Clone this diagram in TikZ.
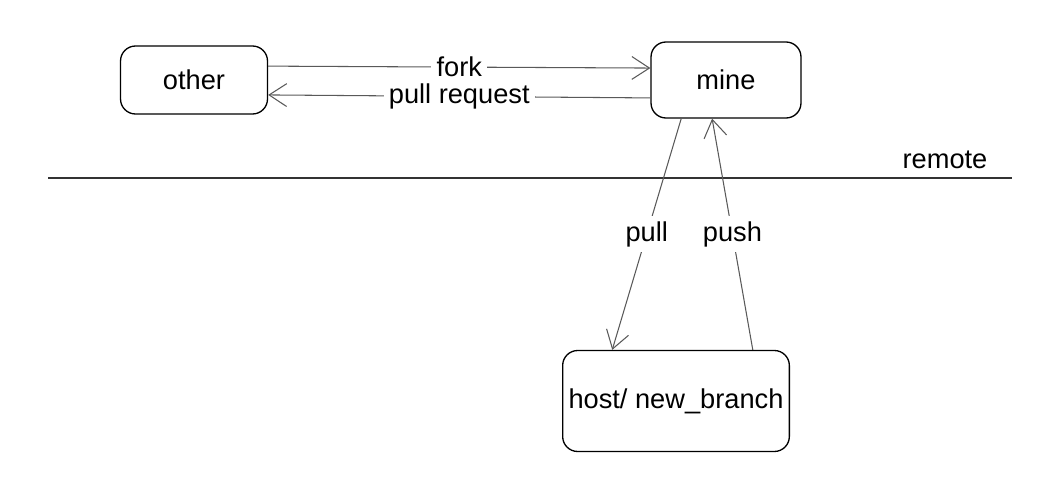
\documentclass[tikz,border=0pt]{standalone}
\usepackage{fontspec}
\setmainfont{Liberation Sans}
\usetikzlibrary{arrows.meta}

\begin{document}
\begin{tikzpicture}[x=0.02cm,y=-0.02cm]
        \tikzset{
            style box/.style={draw=black,line width=0.75pt,rounded corners=0.3cm,font=\fontsize{15.5}{18}\selectfont},
            style link/.style={draw=black!65,line width=0.6pt,-{Straight Barb[length=10pt,width=13pt]}},
            style label/.style={fill=white,inner sep=3pt,font=\fontsize{15.5}{18}\selectfont}
        };
        \useasboundingbox (0,0) rectangle (1037,497);
        % the three repositories
        \node[style box,minimum width=2.94cm,minimum height=1.36cm] (other) at (194,80) {other};
        \node[style box,minimum width=3.0cm,minimum height=1.52cm] (mine) at (726,80) {mine};
        \node[style box,minimum width=4.52cm,minimum height=2.02cm] (host) at (676,401) {host/ new\_branch};
        % remote border
        \draw[black!80,line width=0.6pt] (48,178) -- (1012,178);
        \node[font=\fontsize{15.5}{18}\selectfont] (remote) at (945,160) {remote};
        % links
        \draw[style link] ([yshift=7.9pt]other.east) -- node[style label] {fork} ([yshift=6.8pt]mine.west);
        \draw[style link] ([yshift=-10.2pt]mine.west) -- node[style label] {pull request} ([yshift=-8.5pt]other.east);
        \draw[style link] ([xshift=-25.5pt]mine.south) -- node[style label] {pull} ([xshift=-36.3pt]host.north);
        \draw[style link] ([xshift=43.7pt]host.north) -- node[style label] {push} ([xshift=-7.9pt]mine.south);
    \end{tikzpicture}
\end{document}
